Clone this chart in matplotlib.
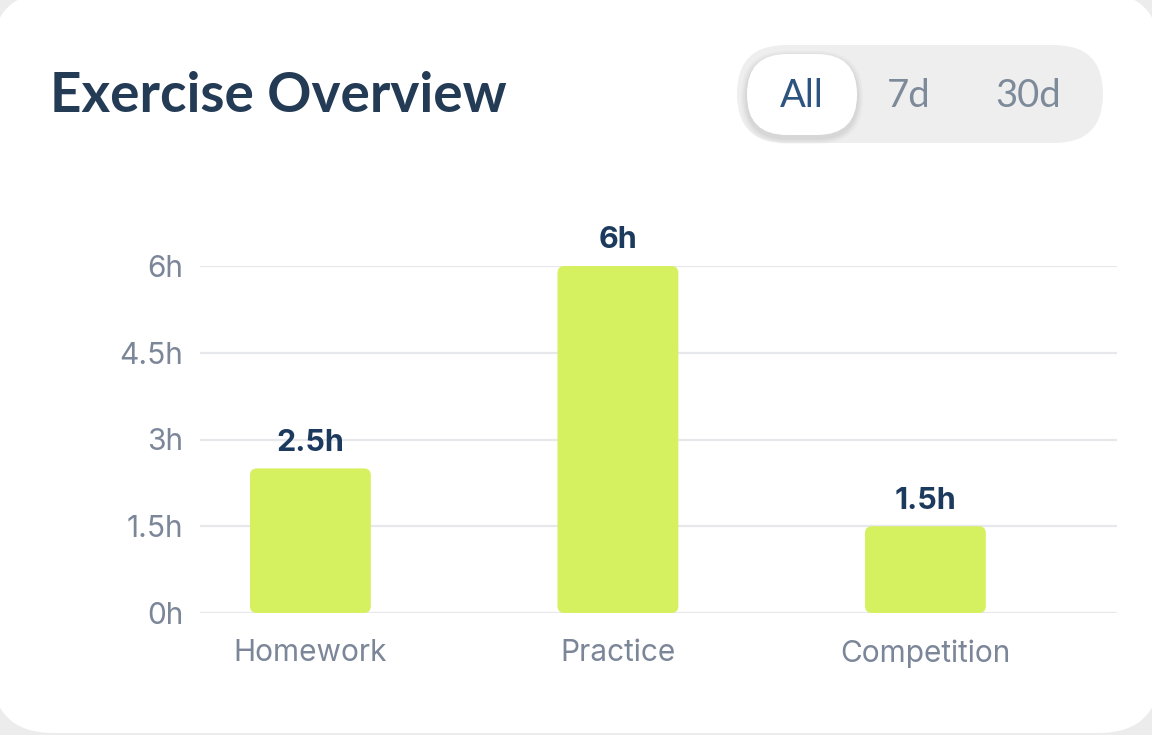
import numpy as np
import matplotlib.pyplot as plt
from matplotlib.patches import FancyBboxPatch

# data
categories = ["Homework", "Practice", "Competition"]
hours = [2.5, 6, 1.5]
value_labels = ["2.5h", "6h", "1.5h"]
yticks = [0, 1.5, 3, 4.5, 6]
ytick_labels = ["0h", "1.5h", "3h", "4.5h", "6h"]
title = "Exercise Overview"
ranges = ["All", "7d", "30d"]

W, H = 1152, 735
fig = plt.figure(figsize=(W / 100, H / 100), dpi=100)
fig.patch.set_facecolor("#ececec")

# background layer in pixel coords (y measured from top via H - y)
bg = fig.add_axes([0, 0, 1, 1])
bg.set_xlim(0, W)
bg.set_ylim(0, H)
bg.axis("off")


def box(x0, y0, w, h, r, **kw):
    # x0, y0 = top-left corner in pixel coords from the top
    bg.add_patch(FancyBboxPatch((x0, H - y0 - h), w, h,
                                boxstyle="round,pad=0,rounding_size=%f" % r,
                                ec="none", **kw))


# white card
box(-8, -8, W + 16, H + 6, 62, fc="white")

bg.text(50, H - 96, title, fontsize=39.5, fontweight="bold", color="#243b55",
        family=["Lato", "DejaVu Sans"], va="center", ha="left")

# range toggle
box(737, 45, 366, 98, 49, fc="#eeeeee")
for s, a in [(6, 0.025), (4, 0.03), (2, 0.04)]:
    box(747 - s, 54 - s + 3, 110 + 2 * s, 81 + 2 * s, 40 + s, fc="black", alpha=a)
box(747, 54, 110, 81, 40, fc="white")
range_x = [802, 909, 1028]
range_col = ["#2d5480", "#7d8a99", "#7d8a99"]
for x, t, c in zip(range_x, ranges, range_col):
    bg.text(x, H - 96, t, fontsize=27.5, color=c, family=["Lato", "DejaVu Sans"],
            ha="center", va="center")

# chart
ax = fig.add_axes([200 / W, 1 - 613 / H, 917 / W, (613 - 266) / H])
ax.set_facecolor("none")
x = np.arange(len(categories))
bars = ax.bar(x, hours, width=0.393, color="#d5f15f", zorder=3)

# rounded bar corners
xpx = 917 / (2.623 + 0.359)
ypx = 347 / 6
for b in bars:
    b.set_visible(False)
    ax.add_patch(FancyBboxPatch((b.get_x(), b.get_y()), b.get_width(), b.get_height(),
                                boxstyle="round,pad=0,rounding_size=%f" % (7 / xpx),
                                mutation_aspect=xpx / ypx,
                                fc="#d5f15f", ec="none", zorder=3))

for xi, h, lab in zip(x, hours, value_labels):
    ax.text(xi, h + 0.2, lab, ha="center", va="bottom", fontsize=22,
            fontweight="bold", color="#1c3a5e", family=["Inter", "DejaVu Sans"],
            clip_on=False)

ax.set_xlim(-0.359, 2.623)
ax.set_ylim(0, 6)
ax.set_yticks(yticks)
ax.set_yticklabels(ytick_labels)
ax.set_xticks(x)
ax.set_xticklabels(categories)
ax.tick_params(length=0, labelsize=21.5, labelcolor="#7b8698")
ax.tick_params(axis="y", pad=12)
ax.tick_params(axis="x", pad=19)
for lab in ax.get_xticklabels() + ax.get_yticklabels():
    lab.set_family(["Inter", "DejaVu Sans"])
ax.grid(axis="y", color="#e6e8ec", linewidth=1.6, zorder=0)
for s in ax.spines.values():
    s.set_visible(False)

fig.savefig("out.png", dpi=100, facecolor=fig.get_facecolor())
